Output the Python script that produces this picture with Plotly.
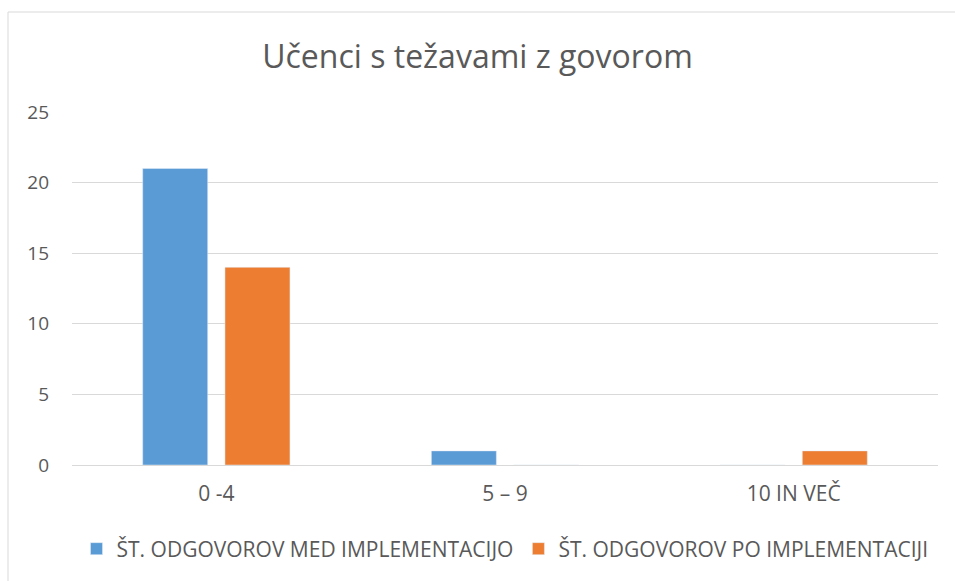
import plotly.graph_objects as go

categories = ["0 -4", "5 – 9", "10 IN VEČ"]
med = [21, 1, 0]
po = [14, 0, 1]
series_names = ["ŠT. ODGOVOROV MED IMPLEMENTACIJO", "ŠT. ODGOVOROV PO IMPLEMENTACIJI"]

W, H = 955, 581
ml, mr, mt, mb = 72, 17, 112, 116
pw, ph = W - ml - mr, H - mt - mb

fig = go.Figure()
fig.add_trace(go.Bar(x=categories, y=med, name=series_names[0], marker_color="#5B9BD5"))
fig.add_trace(go.Bar(x=categories, y=po, name=series_names[1], marker_color="#ED7D31"))

font = "Open Sans"
fig.update_layout(
    width=W, height=H,
    margin=dict(l=ml, r=mr, t=mt, b=mb),
    paper_bgcolor="white", plot_bgcolor="white",
    barmode="group", bargap=0.43, bargroupgap=0.21,
    title=dict(text="Učenci s težavami z govorom", x=0.5, xanchor="center",
               y=1 - 57 / H, yanchor="middle",
               font=dict(family=font, size=32, color="#595959")),
    font=dict(family=font, size=18, color="#595959"),
    yaxis=dict(range=[0, 25], dtick=5, showgrid=True, gridcolor="#D9D9D9", gridwidth=1,
               zeroline=False, showline=False, ticks="", tickfont=dict(size=19, color="#595959"),
               ticklabelstandoff=22),
    xaxis=dict(showline=True, linecolor="#D9D9D9", linewidth=1, ticks="",
               tickfont=dict(size=21, color="#595959"), ticklabelstandoff=10),
    legend=dict(orientation="h", x=0.5, xanchor="center", y=-(549 - 465) / ph, yanchor="middle",
                font=dict(size=21, color="#595959"), itemwidth=30, traceorder="normal"),
    shapes=[dict(type="rect", xref="paper", yref="paper",
                 x0=(8 - ml) / pw, x1=(W + 5 - ml) / pw,
                 y0=(H - mb - (H + 5)) / ph, y1=(H - mb - 12) / ph,
                 line=dict(color="#D9D9D9", width=1), fillcolor="rgba(0,0,0,0)", layer="below")],
)

fig.write_html("out.html", config={"displayModeBar": False},
               post_script="document.body.style.margin='0';document.body.style.overflow='hidden';")
